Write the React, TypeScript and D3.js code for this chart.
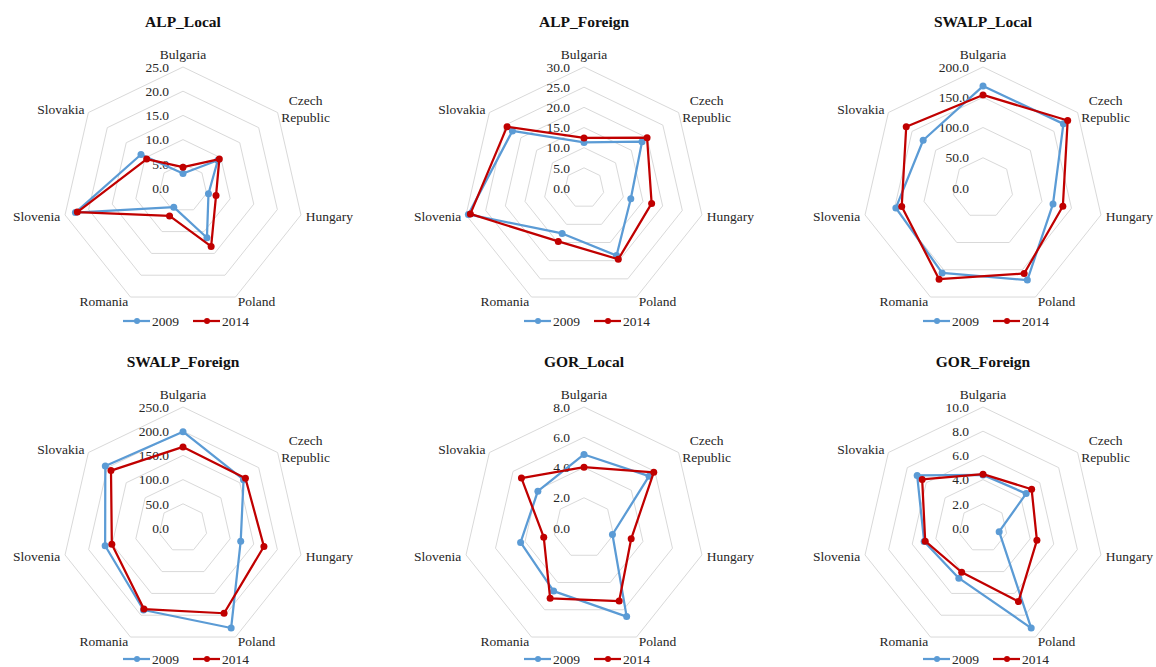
import React, { useEffect, useRef } from "react";
import * as d3 from "d3";

// categories (clockwise from the top)
const countries = ["Bulgaria", "Czech Republic", "Hungary", "Poland", "Romania", "Slovenia", "Slovakia"];
const years = ["2009", "2014"];

// series values
const alpLocal2009 = [3.0, 9.2, 5.4, 11.4, 4.4, 22.8, 11.1];
const alpLocal2014 = [4.3, 9.6, 7.0, 13.4, 6.4, 22.4, 9.6];

const alpForeign2009 = [11.3, 18.4, 11.9, 18.6, 12.5, 29.4, 22.7];
const alpForeign2014 = [12.4, 20.0, 17.2, 19.6, 14.7, 28.9, 24.4];

const swalpLocal2009 = [168.5, 170.0, 118.7, 168.9, 155.8, 147.7, 126.5];
const swalpLocal2014 = [153.8, 179.0, 135.4, 156.8, 167.3, 137.8, 162.3];

const swalpForeign2009 = [199.0, 160.0, 122.3, 229.3, 188.0, 165.0, 205.3];
const swalpForeign2014 = [167.6, 165.0, 171.5, 195.5, 186.0, 150.8, 190.3];

const gorLocal2009 = [4.86, 5.5, 1.93, 6.5, 4.63, 4.3, 3.9];
const gorLocal2014 = [4.02, 5.9, 3.2, 5.36, 5.16, 2.73, 5.29];

const gorForeign2009 = [4.39, 4.56, 1.37, 9.18, 4.6, 4.99, 6.96];
const gorForeign2014 = [4.45, 5.14, 4.57, 6.75, 4.06, 4.9, 6.43];

// panel titles and axis settings
const titles = ["ALP_Local", "ALP_Foreign", "SWALP_Local", "SWALP_Foreign", "GOR_Local", "GOR_Foreign"];
const axisMax = [25, 30, 200, 250, 8, 10];
const axisStep = [5, 5, 50, 50, 2, 2];

const seriesByPanel = [
  [alpLocal2009, alpLocal2014],
  [alpForeign2009, alpForeign2014],
  [swalpLocal2009, swalpLocal2014],
  [swalpForeign2009, swalpForeign2014],
  [gorLocal2009, gorLocal2014],
  [gorForeign2009, gorForeign2014],
];

const colors = ["#5B9BD5", "#C00000"];
const font = "'Liberation Serif', 'Times New Roman', serif";

export default function App() {
  const ref = useRef<SVGSVGElement>(null);

  useEffect(() => {
    const width = 1156;
    const height = 667;
    const svg = d3.select(ref.current);
    svg.selectAll("*").remove();
    svg.attr("width", width).attr("height", height);

    const centersX = [183, 584, 983];
    const centersY = [188, 528];
    const R = 121;
    const n = countries.length;
    const angle = (i: number) => (i * 2 * Math.PI) / n;

    titles.forEach((title, p) => {
      const cx = centersX[p % 3];
      const cy = centersY[Math.floor(p / 3)];
      const r = d3.scaleLinear().domain([0, axisMax[p]]).range([0, R]);
      const ticks = d3.range(0, axisMax[p] + axisStep[p] / 2, axisStep[p]);

      const g = svg.append("g").attr("transform", `translate(${cx},${cy})`);

      // title
      g.append("text")
        .attr("x", 0)
        .attr("y", -161)
        .attr("text-anchor", "middle")
        .attr("font-family", font)
        .attr("font-weight", "bold")
        .attr("font-size", 15.5)
        .attr("fill", "#111")
        .text(title);

      // grid heptagons
      const ring = d3
        .lineRadial<number>()
        .angle((_, i) => angle(i))
        .radius((d) => r(d))
        .curve(d3.curveLinearClosed);

      g.append("g")
        .selectAll("path")
        .data(ticks.filter((t) => t > 0))
        .join("path")
        .attr("d", (t) => ring(countries.map(() => t)))
        .attr("fill", "none")
        .attr("stroke", "#d9d9d9")
        .attr("stroke-width", 1);

      // tick labels
      g.append("g")
        .selectAll("text")
        .data(ticks)
        .join("text")
        .attr("x", -14)
        .attr("y", (t) => -r(t))
        .attr("dy", "0.35em")
        .attr("text-anchor", "end")
        .attr("font-family", font)
        .attr("font-size", 13.5)
        .attr("fill", "#262626")
        .text((t) => d3.format(".1f")(t));

      // category labels
      countries.forEach((c, i) => {
        const a = angle(i);
        const vx = R * Math.sin(a);
        const vy = -R * Math.cos(a);
        const t = g
          .append("text")
          .attr("font-family", font)
          .attr("font-size", 13.5)
          .attr("fill", "#262626");
        if (i === 0) {
          t.attr("x", vx).attr("y", vy - 13).attr("dy", "0.35em").attr("text-anchor", "middle").text(c);
        } else if (c === "Czech Republic") {
          const words = c.split(" ");
          t.attr("text-anchor", "middle");
          words.forEach((w, k) => {
            t.append("tspan")
              .attr("x", vx + 28)
              .attr("y", vy - 12 + k * 17)
              .attr("dy", "0.35em")
              .text(w);
          });
        } else {
          t.attr("x", vx + 5 * Math.sin(a))
            .attr("y", vy - 5 * Math.cos(a))
            .attr("dy", "0.35em")
            .attr("text-anchor", Math.sin(a) > 0 ? "start" : "end")
            .text(c);
        }
      });

      // series
      const line = d3
        .lineRadial<number>()
        .angle((_, i) => angle(i))
        .radius((d) => r(d))
        .curve(d3.curveLinearClosed);

      seriesByPanel[p].forEach((values, s) => {
        g.append("path")
          .attr("d", line(values))
          .attr("fill", "none")
          .attr("stroke", colors[s])
          .attr("stroke-width", 2.25)
          .attr("stroke-linejoin", "round");
        g.append("g")
          .selectAll("circle")
          .data(values)
          .join("circle")
          .attr("cx", (d, i) => r(d) * Math.sin(angle(i)))
          .attr("cy", (d, i) => -r(d) * Math.cos(angle(i)))
          .attr("r", 3.5)
          .attr("fill", colors[s]);
      });

      // legend
      const legend = g.append("g").attr("transform", `translate(0,${p < 3 ? 133 : 131})`);
      const legendX = [-60, 10];
      years.forEach((y, s) => {
        const lg = legend.append("g").attr("transform", `translate(${legendX[s]},0)`);
        lg.append("line")
          .attr("x1", 0)
          .attr("x2", 27)
          .attr("y1", 0)
          .attr("y2", 0)
          .attr("stroke", colors[s])
          .attr("stroke-width", 2.25);
        lg.append("circle").attr("cx", 14).attr("cy", 0).attr("r", 3).attr("fill", colors[s]);
        lg.append("text")
          .attr("x", 29)
          .attr("y", 0)
          .attr("dy", "0.35em")
          .attr("font-family", font)
          .attr("font-size", 13.5)
          .attr("fill", "#262626")
          .text(y);
      });
    });
  }, []);

  return (
    <div style={{ position: "absolute", left: 0, top: 0, background: "#fff" }}>
      <svg ref={ref} style={{ display: "block" }} />
    </div>
  );
}
